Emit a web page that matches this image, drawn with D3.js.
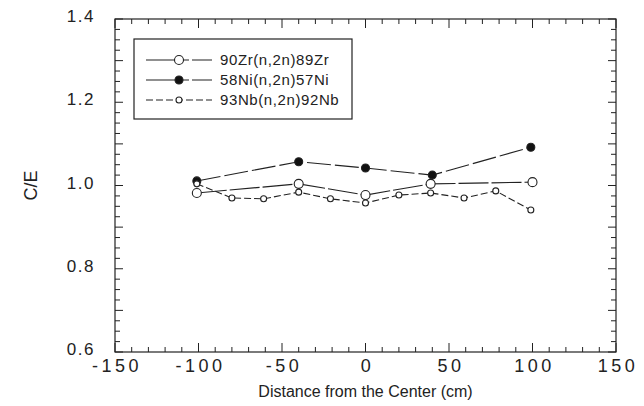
<!DOCTYPE html>
<html>
<head>
<meta charset="utf-8">
<script src="https://cdn.jsdelivr.net/npm/d3@7"></script>
<style>
body { margin: 0; background: #fff; }
svg text { font-family: "Liberation Sans", Arial, sans-serif; fill: #222; }
</style>
</head>
<body>
<div id="chart"></div>
<script>
// data
var zrX = [-101, -40, 0, 39, 100];
var zrY = [0.982, 1.004, 0.977, 1.004, 1.008];
var niX = [-101, -40, 0, 40, 99];
var niY = [1.011, 1.057, 1.042, 1.025, 1.092];
var nbX = [-101, -80, -61, -40, -21, 0, 20, 39, 59, 78, 99];
var nbY = [1.004, 0.970, 0.968, 0.984, 0.968, 0.958, 0.977, 0.982, 0.970, 0.987, 0.941];

var xTicks = [-150, -100, -50, 0, 50, 100, 150];
var yTicks = [0.6, 0.8, 1.0, 1.2, 1.4];

var series = [
	{ name: "90Zr(n,2n)89Zr", x: zrX, y: zrY, fill: "#fff", r: 4.5, dash: "30,3" },
	{ name: "58Ni(n,2n)57Ni", x: niX, y: niY, fill: "#111", r: 4, dash: "24,4" },
	{ name: "93Nb(n,2n)92Nb", x: nbX, y: nbY, fill: "#fff", r: 3, dash: "7,3" }
];

var width = 644, height = 406;
var margin = { top: 19, right: 28, bottom: 54, left: 115 };

var svg = d3.select("#chart").append("svg")
	.attr("width", width)
	.attr("height", height);

var x = d3.scaleLinear().domain([-150, 150]).range([margin.left, width - margin.right]);
var y = d3.scaleLinear().domain([0.6, 1.4]).range([height - margin.bottom, margin.top]);

var ink = "#222";

// frame
svg.append("rect")
	.attr("x", x(-150)).attr("y", y(1.4))
	.attr("width", x(150) - x(-150)).attr("height", y(0.6) - y(1.4))
	.attr("fill", "none").attr("stroke", ink).attr("stroke-width", 1.2);

// inward ticks on all four sides
var xMinor = d3.range(-150, 151, 10);
var yMinor = d3.range(0, 33).map(function(i) { return 0.6 + i * 0.025; });

function xLen(v) { return v % 50 === 0 ? 9 : 5; }
function yLen(v) { return Math.abs(v * 10 - Math.round(v * 10)) < 1e-6 ? 8 : 5; }

var tk = svg.append("g").attr("stroke", ink).attr("stroke-width", 1);
tk.selectAll(".xb").data(xMinor).enter().append("line")
	.attr("x1", function(d) { return x(d); }).attr("x2", function(d) { return x(d); })
	.attr("y1", y(0.6)).attr("y2", function(d) { return y(0.6) - xLen(d); });
tk.selectAll(".xt").data(xMinor).enter().append("line")
	.attr("x1", function(d) { return x(d); }).attr("x2", function(d) { return x(d); })
	.attr("y1", y(1.4)).attr("y2", function(d) { return y(1.4) + xLen(d); });
tk.selectAll(".yl").data(yMinor).enter().append("line")
	.attr("y1", function(d) { return y(d); }).attr("y2", function(d) { return y(d); })
	.attr("x1", x(-150)).attr("x2", function(d) { return x(-150) + yLen(d); });
tk.selectAll(".yr").data(yMinor).enter().append("line")
	.attr("y1", function(d) { return y(d); }).attr("y2", function(d) { return y(d); })
	.attr("x1", x(150)).attr("x2", function(d) { return x(150) - yLen(d); });

// tick labels
svg.selectAll(".xl").data(xTicks).enter().append("text")
	.attr("x", function(d) { return x(d) + 2; })
	.attr("y", y(0.6) + 20)
	.attr("text-anchor", "middle")
	.attr("font-size", 18)
	.attr("letter-spacing", 3.5)
	.text(function(d) { return d; });

svg.selectAll(".yl2").data(yTicks).enter().append("text")
	.attr("x", x(-150) - 20)
	.attr("y", function(d) { return y(d) + 3; })
	.attr("text-anchor", "end")
	.attr("font-size", 17)
	.attr("letter-spacing", 1.5)
	.text(function(d) { return d.toFixed(1); });

// axis titles
svg.append("text")
	.attr("x", x(0))
	.attr("y", 397)
	.attr("text-anchor", "middle")
	.attr("font-size", 16)
	.text("Distance from the Center (cm)");

svg.append("text")
	.attr("transform", "translate(37," + y(1.0) + ") rotate(-90)")
	.attr("text-anchor", "middle")
	.attr("font-size", 18)
	.text("C/E");

// series
var line = d3.line()
	.x(function(d) { return x(d[0]); })
	.y(function(d) { return y(d[1]); });

series.forEach(function(s) {
	var pts = s.x.map(function(v, i) { return [v, s.y[i]]; });
	svg.append("path")
		.datum(pts)
		.attr("d", line)
		.attr("fill", "none")
		.attr("stroke", ink)
		.attr("stroke-width", 1.1)
		.attr("stroke-dasharray", s.dash);
	svg.selectAll(null).data(pts).enter().append("circle")
		.attr("cx", function(d) { return x(d[0]); })
		.attr("cy", function(d) { return y(d[1]); })
		.attr("r", s.r)
		.attr("fill", s.fill)
		.attr("stroke", ink)
		.attr("stroke-width", 1.1);
});

// legend
var lg = svg.append("g");
lg.append("rect")
	.attr("x", 134).attr("y", 39).attr("width", 218).attr("height", 80)
	.attr("fill", "#fff").attr("stroke", ink).attr("stroke-width", 1.2);

series.forEach(function(s, i) {
	var ly = 60 + i * 20;
	lg.append("line")
		.attr("x1", 146).attr("x2", 212).attr("y1", ly).attr("y2", ly)
		.attr("stroke", ink).attr("stroke-width", 1.1)
		.attr("stroke-dasharray", s.dash === "7,3" ? "7,3" : "32,3,8,3");
	lg.append("circle")
		.attr("cx", 179).attr("cy", ly).attr("r", s.r)
		.attr("fill", s.fill).attr("stroke", ink).attr("stroke-width", 1.1);
	lg.append("text")
		.attr("x", 220).attr("y", ly + 5)
		.attr("font-size", 15)
		.attr("letter-spacing", 0.6)
		.text(s.name);
});
</script>
</body>
</html>
